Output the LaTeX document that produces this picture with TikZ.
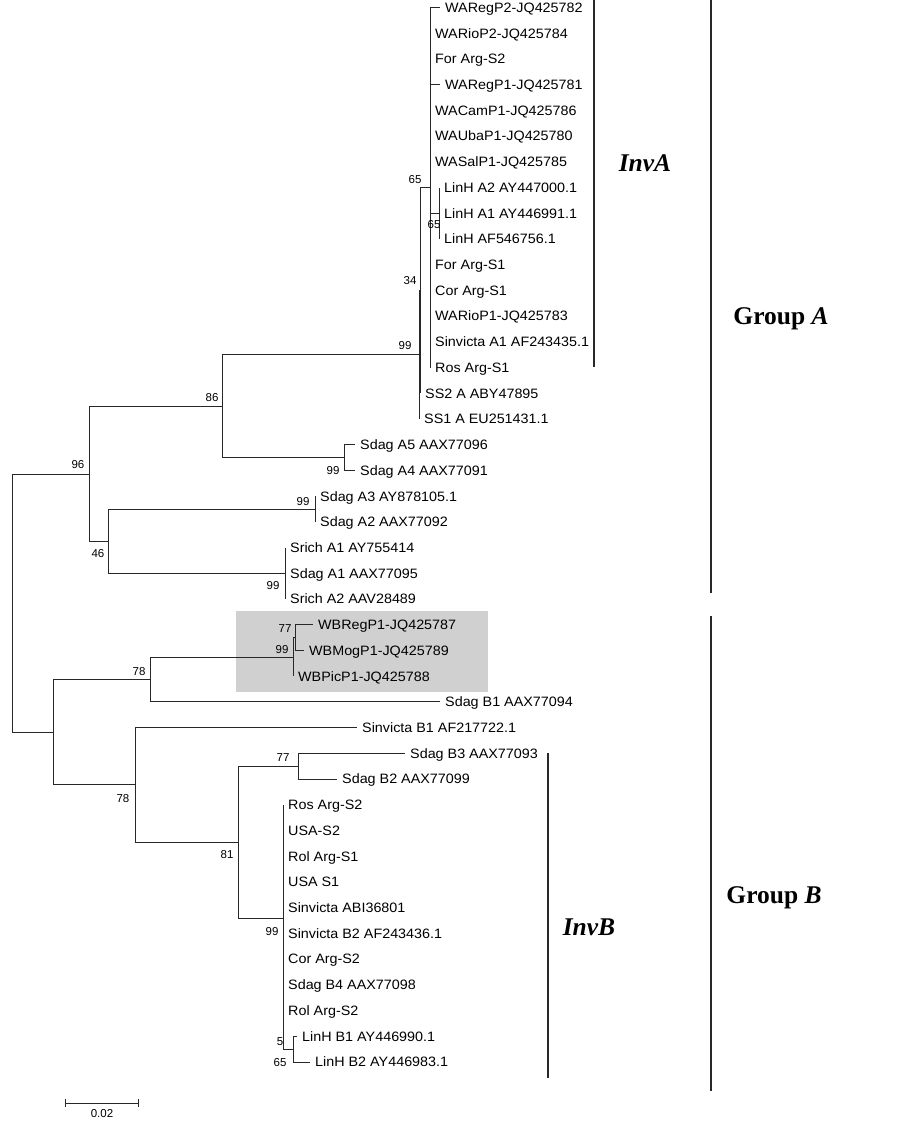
\documentclass[tikz,border=0pt]{standalone}
\usepackage{fontspec}
\setmainfont{Liberation Serif}
\newfontfamily\lsans[FakeStretch=1.055]{Liberation Sans}
\newfontfamily\lsansb{Liberation Sans}
\definecolor{hlgray}{RGB}{208,208,208}
\definecolor{treeline}{RGB}{40,40,40}
\begin{document}
\begin{tikzpicture}[x=1pt,y=-1pt,
  branch/.style={line width=1pt, draw=treeline},
  leaflab/.style={anchor=base west, inner sep=0pt, xshift=5pt, yshift=-4.8pt, font=\lsans\fontsize{13.6}{15}\selectfont},
  boot/.style={inner sep=0pt, font=\lsansb\fontsize{11.5}{13}\selectfont},
  thinbar/.style={line width=1.8pt, draw=treeline},
  thickbar/.style={line width=2.2pt, draw=treeline},
  grouplab/.style={anchor=base, inner sep=0pt, font=\fontsize{25.5}{28}\selectfont\bfseries}]
\useasboundingbox (0,0) rectangle (903,1122);
% highlight box
\fill[hlgray] (236,611) rectangle (488,692);
% internal nodes
\coordinate (R) at (12,603);
\coordinate (n96) at (89,474.7);
\coordinate (n86) at (222,406.3);
\coordinate (n46) at (108,541);
\coordinate (n99a) at (419,354.8);
\coordinate (n99b) at (344,457.6);
\coordinate (n34) at (420,290.6);
\coordinate (n65a) at (430,187.6);
\coordinate (n65b) at (439,213.3);
\coordinate (n99c) at (315,509);
\coordinate (n99d) at (285,573.3);
\coordinate (nB) at (53,732.5);
\coordinate (n78a) at (150,679.5);
\coordinate (n99e) at (293,657);
\coordinate (n77a) at (295,637.7);
\coordinate (n78b) at (135,784.9);
\coordinate (n81) at (238,842);
\coordinate (n77b) at (298,766.3);
\coordinate (n99f) at (283,918);
\coordinate (nX) at (293,1049.2);
% leaves
\coordinate (l0) at (440,7.5);
\coordinate (l1) at (430,33.2);
\coordinate (l2) at (430,58.9);
\coordinate (l3) at (440,84.7);
\coordinate (l4) at (430,110.4);
\coordinate (l5) at (430,136.1);
\coordinate (l6) at (430,161.8);
\coordinate (l7) at (439,187.5);
\coordinate (l8) at (439,213.3);
\coordinate (l9) at (439,239.0);
\coordinate (l10) at (430,264.7);
\coordinate (l11) at (430,290.4);
\coordinate (l12) at (430,316.1);
\coordinate (l13) at (430,341.9);
\coordinate (l14) at (430,367.6);
\coordinate (l15) at (420,393.3);
\coordinate (l16) at (419,419.0);
\coordinate (l17) at (355,444.7);
\coordinate (l18) at (355,470.5);
\coordinate (l19) at (315,496.2);
\coordinate (l20) at (315,521.9);
\coordinate (l21) at (285,547.6);
\coordinate (l22) at (285,573.3);
\coordinate (l23) at (285,599.1);
\coordinate (l24) at (313,624.8);
\coordinate (l25) at (304,650.5);
\coordinate (l26) at (293,676.2);
\coordinate (l27) at (440,701.9);
\coordinate (l28) at (357,727.7);
\coordinate (l29) at (405,753.4);
\coordinate (l30) at (337,779.1);
\coordinate (l31) at (283,804.8);
\coordinate (l32) at (283,830.5);
\coordinate (l33) at (283,856.3);
\coordinate (l34) at (283,882.0);
\coordinate (l35) at (283,907.7);
\coordinate (l36) at (283,933.4);
\coordinate (l37) at (283,959.1);
\coordinate (l38) at (283,984.9);
\coordinate (l39) at (283,1010.6);
\coordinate (l40) at (297,1036.3);
\coordinate (l41) at (310,1062.0);
% branches
\draw[branch] (R) |- (n96) (R) |- (nB);
\draw[branch] (n96) |- (n86) (n96) |- (n46);
\draw[branch] (n86) |- (n99a) (n86) |- (n99b);
\draw[branch] (n99a) |- (n34) (n99a) |- (l16);
\draw[branch] (n34) |- (n65a) (n34) |- (l15);
\foreach \c in {l0,l1,l2,l3,l4,l5,l6,n65b,l10,l11,l12,l13,l14}
  \draw[branch] (n65a) |- (\c);
\foreach \c in {l7,l8,l9} \draw[branch] (n65b) |- (\c);
\draw[branch] (n99b) |- (l17) (n99b) |- (l18);
\draw[branch] (n46) |- (n99c) (n46) |- (n99d);
\draw[branch] (n99c) |- (l19) (n99c) |- (l20);
\foreach \c in {l21,l22,l23} \draw[branch] (n99d) |- (\c);
\draw[branch] (nB) |- (n78a) (nB) |- (n78b);
\draw[branch] (n78a) |- (n99e) (n78a) |- (l27);
\draw[branch] (n99e) |- (n77a) (n99e) |- (l26);
\draw[branch] (n77a) |- (l24) (n77a) |- (l25);
\draw[branch] (n78b) |- (l28) (n78b) |- (n81);
\draw[branch] (n81) |- (n77b) (n81) |- (n99f);
\draw[branch] (n77b) |- (l29) (n77b) |- (l30);
\foreach \c in {l31,l32,l33,l34,l35,l36,l37,l38,l39,nX}
  \draw[branch] (n99f) |- (\c);
\draw[branch] (nX) |- (l40) (nX) |- (l41);
% leaf labels
\node[leaflab] (t0) at (l0) {WARegP2-JQ425782};
\node[leaflab] (t1) at (l1) {WARioP2-JQ425784};
\node[leaflab] (t2) at (l2) {For Arg-S2};
\node[leaflab] (t3) at (l3) {WARegP1-JQ425781};
\node[leaflab] (t4) at (l4) {WACamP1-JQ425786};
\node[leaflab] (t5) at (l5) {WAUbaP1-JQ425780};
\node[leaflab] (t6) at (l6) {WASalP1-JQ425785};
\node[leaflab] (t7) at (l7) {LinH A2 AY447000.1};
\node[leaflab] (t8) at (l8) {LinH A1 AY446991.1};
\node[leaflab] (t9) at (l9) {LinH AF546756.1};
\node[leaflab] (t10) at (l10) {For Arg-S1};
\node[leaflab] (t11) at (l11) {Cor Arg-S1};
\node[leaflab] (t12) at (l12) {WARioP1-JQ425783};
\node[leaflab] (t13) at (l13) {Sinvicta A1 AF243435.1};
\node[leaflab] (t14) at (l14) {Ros Arg-S1};
\node[leaflab] (t15) at (l15) {SS2 A ABY47895};
\node[leaflab] (t16) at (l16) {SS1 A EU251431.1};
\node[leaflab] (t17) at (l17) {Sdag A5 AAX77096};
\node[leaflab] (t18) at (l18) {Sdag A4 AAX77091};
\node[leaflab] (t19) at (l19) {Sdag A3 AY878105.1};
\node[leaflab] (t20) at (l20) {Sdag A2 AAX77092};
\node[leaflab] (t21) at (l21) {Srich A1 AY755414};
\node[leaflab] (t22) at (l22) {Sdag A1 AAX77095};
\node[leaflab] (t23) at (l23) {Srich A2 AAV28489};
\node[leaflab] (t24) at (l24) {WBRegP1-JQ425787};
\node[leaflab] (t25) at (l25) {WBMogP1-JQ425789};
\node[leaflab] (t26) at (l26) {WBPicP1-JQ425788};
\node[leaflab] (t27) at (l27) {Sdag B1 AAX77094};
\node[leaflab] (t28) at (l28) {Sinvicta B1 AF217722.1};
\node[leaflab] (t29) at (l29) {Sdag B3 AAX77093};
\node[leaflab] (t30) at (l30) {Sdag B2 AAX77099};
\node[leaflab] (t31) at (l31) {Ros Arg-S2};
\node[leaflab] (t32) at (l32) {USA-S2};
\node[leaflab] (t33) at (l33) {Rol Arg-S1};
\node[leaflab] (t34) at (l34) {USA S1};
\node[leaflab] (t35) at (l35) {Sinvicta ABI36801};
\node[leaflab] (t36) at (l36) {Sinvicta B2 AF243436.1};
\node[leaflab] (t37) at (l37) {Cor Arg-S2};
\node[leaflab] (t38) at (l38) {Sdag B4 AAX77098};
\node[leaflab] (t39) at (l39) {Rol Arg-S2};
\node[leaflab] (t40) at (l40) {LinH B1 AY446990.1};
\node[leaflab] (t41) at (l41) {LinH B2 AY446983.1};
% bootstrap values
\node[boot] (b1) at (415,180) {65};
\node[boot] (b2) at (434,225) {65};
\node[boot] (b3) at (410,281) {34};
\node[boot] (b4) at (405,346) {99};
\node[boot] (b5) at (212,398) {86};
\node[boot] (b6) at (333,471) {99};
\node[boot] (b7) at (78,465) {96};
\node[boot] (b8) at (303,502) {99};
\node[boot] (b9) at (98,554) {46};
\node[boot] (b10) at (273,586) {99};
\node[boot] (b11) at (285,629) {77};
\node[boot] (b12) at (282,650) {99};
\node[boot] (b13) at (139,672) {78};
\node[boot] (b14) at (123,799) {78};
\node[boot] (b15) at (227,855) {81};
\node[boot] (b16) at (283,758) {77};
\node[boot] (b17) at (272,932) {99};
\node[boot] (b18) at (280,1042) {5};
\node[boot] (b19) at (280,1063) {65};
% clade bars
\coordinate (ia1) at (594,0);
\coordinate (ia2) at (594,367);
\coordinate (ib1) at (548,753);
\coordinate (ib2) at (548,1078);
\coordinate (ga1) at (711,0);
\coordinate (ga2) at (711,593);
\coordinate (gb1) at (711,616);
\coordinate (gb2) at (711,1091);
\draw[thinbar] (ia1) -- (ia2);
\draw[thinbar] (ib1) -- (ib2);
\draw[thickbar] (ga1) -- (ga2);
\draw[thickbar] (gb1) -- (gb2);
\node[grouplab] (invA) at (645,171.7) {\itshape InvA};
\node[grouplab] (grpA) at (781,324) {Group \textit{A}};
\node[grouplab] (invB) at (589,935) {\itshape InvB};
\node[grouplab] (grpB) at (774,903.3) {Group \textit{B}};
% scale bar
\coordinate (s1) at (65,1103);
\coordinate (s2) at (138,1103);
\draw[branch] (s1) -- (s2);
\draw[branch] ([yshift=4pt]s1) -- ([yshift=-4pt]s1);
\draw[branch] ([yshift=4pt]s2) -- ([yshift=-4pt]s2);
\node[boot] (sl) at (102,1113.3) {0.02};
\end{tikzpicture}
\end{document}
